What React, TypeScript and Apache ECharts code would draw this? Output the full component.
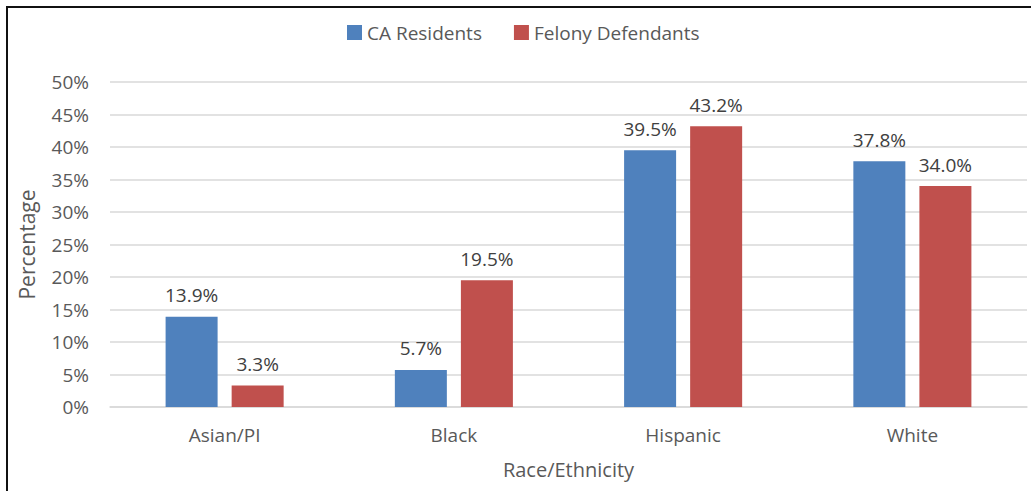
import React, { useEffect, useRef } from "react";
import * as echarts from "echarts";

const categories = ["Asian/PI", "Black", "Hispanic", "White"];
const caResidents = [13.9, 5.7, 39.5, 37.8];
const felonyDefendants = [3.3, 19.5, 43.2, 34.0];
const seriesNames = ["CA Residents", "Felony Defendants"];

const FONT = "'Open Sans', 'Noto Sans', sans-serif";

export default function App() {
  const ref = useRef<HTMLDivElement>(null);
  useEffect(() => {
    if (!ref.current) return;
    const chart = echarts.init(ref.current, null, { renderer: "svg" });
    const labelStyle = {
      show: true,
      position: "top" as const,
      distance: 12,
      fontFamily: FONT,
      fontSize: 19,
      color: "#404040",
      formatter: (p: any) => p.value.toFixed(1) + "%",
    };
    chart.setOption({
      animation: false,
      backgroundColor: "#ffffff",
      textStyle: { fontFamily: FONT },
      graphic: [
        {
          type: "rect",
          shape: { x: 7, y: 7, width: 1200, height: 700 },
          style: { fill: "none", stroke: "#111111", lineWidth: 2 },
          silent: true,
        },
      ],
      legend: {
        data: seriesNames,
        top: 18,
        left: 342,
        itemWidth: 15,
        itemHeight: 15,
        itemGap: 32,
        icon: "rect",
        textStyle: { fontFamily: FONT, fontSize: 19, color: "#595959" },
      },
      grid: { left: 110, right: 4, top: 82, bottom: 84, containLabel: false },
      xAxis: {
        type: "category",
        data: categories,
        name: "Race/Ethnicity",
        nameLocation: "middle",
        nameGap: 52,
        nameTextStyle: { fontFamily: FONT, fontSize: 20, color: "#595959" },
        axisLine: { show: true, lineStyle: { color: "#d9d9d9", width: 1.5 } },
        axisTick: { show: false },
        axisLabel: { fontFamily: FONT, fontSize: 19, color: "#595959", margin: 18 },
      },
      yAxis: {
        type: "value",
        min: 0,
        max: 50,
        interval: 5,
        name: "Percentage",
        nameLocation: "middle",
        nameGap: 73,
        nameTextStyle: { fontFamily: FONT, fontSize: 21, color: "#595959" },
        axisLine: { show: false },
        axisTick: { show: false },
        axisLabel: {
          fontFamily: FONT,
          fontSize: 19,
          color: "#595959",
          margin: 21,
          formatter: (v: number) => v + "%",
        },
        splitLine: { lineStyle: { color: "#d9d9d9", width: 1.5 } },
      },
      series: [
        {
          name: seriesNames[0],
          type: "bar",
          data: caResidents,
          barWidth: 52,
          barGap: "27%",
          itemStyle: { color: "#4F81BD" },
          label: labelStyle,
        },
        {
          name: seriesNames[1],
          type: "bar",
          data: felonyDefendants,
          barWidth: 52,
          itemStyle: { color: "#C0504D" },
          label: labelStyle,
        },
      ],
    });
    return () => chart.dispose();
  }, []);
  return (
    <div
      ref={ref}
      style={{ position: "fixed", left: 0, top: 0, width: 1031, height: 491 }}
    />
  );
}
